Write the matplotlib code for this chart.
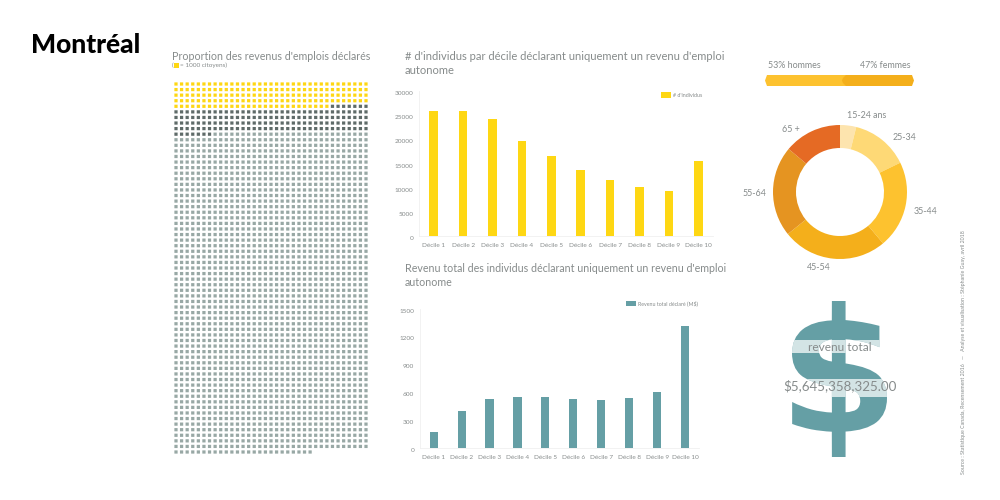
import matplotlib
matplotlib.use('Agg')
import numpy as np
import matplotlib.pyplot as plt
from matplotlib.patches import PathPatch, Polygon, Rectangle
from matplotlib.textpath import TextPath
from matplotlib.font_manager import FontProperties
from matplotlib.transforms import Affine2D, ScaledTranslation

plt.rcParams['font.family'] = ['Lato', 'Open Sans', 'DejaVu Sans']

# waffle: one square = 1000 people
waffle_counts = [168, 154, 2013]
waffle_colors = ['#fed713', '#5f6b69', '#98a8a5']
waffle_cols = 35

deciles = ['Décile 1', 'Décile 2', 'Décile 3', 'Décile 4', 'Décile 5',
           'Décile 6', 'Décile 7', 'Décile 8', 'Décile 9', 'Décile 10']
individus = [25800, 25800, 24200, 19650, 16500, 13600, 11700, 10100, 9350, 15500]
revenu = [165, 400, 525, 550, 550, 525, 518, 536, 597, 1313]

age_labels = ['15-24 ans', '25-34', '35-44', '45-54', '55-64', '65 +']
age_shares = [3.9, 13.9, 21.1, 25.3, 21.9, 13.9]
age_colors = ['#fde4ae', '#fed976', '#fdc22f', '#f4af1b', '#e59421', '#e56a24']

hommes = 53
femmes = 47

GREY = '#868b8b'
TEAL = '#659fa5'
YELLOW = '#fed713'

fig = plt.figure(figsize=(10, 5), dpi=100, facecolor='white')


def px_axes(x0, y0, x1, y1):
    return fig.add_axes([x0 / 1000, 1 - y1 / 500, (x1 - x0) / 1000, (y1 - y0) / 500])


def bar_panel(box, values, color, ymax, ticks, label, legend_at):
    ax = px_axes(*box)
    ax.bar(range(len(values)), values, width=0.29, color=color, label=label)
    ax.set_xlim(-0.5, len(values) - 0.5)
    ax.set_ylim(0, ymax)
    ax.set_yticks(ticks)
    ax.set_xticks(range(len(values)))
    ax.set_xticklabels(deciles)
    ax.tick_params(length=0, labelsize=4.6, labelcolor=GREY, pad=5)
    ax.tick_params(axis='y', pad=4)
    # the y labels sit a little below their value in the reference
    for lab in ax.get_yticklabels():
        lab.set_transform(lab.get_transform() + ScaledTranslation(0, -2 / 100, fig.dpi_scale_trans))
    for s in ['top', 'right']:
        ax.spines[s].set_visible(False)
    for s in ['left', 'bottom']:
        ax.spines[s].set_color('#f0f0f0')
        ax.spines[s].set_linewidth(0.6)
    ax.legend(loc='center', bbox_to_anchor=legend_at, frameon=False, fontsize=3.8,
              labelcolor=GREY, handlelength=1.9, handleheight=1.2, handletextpad=0.3,
              borderpad=0)
    return ax


# waffle
ax_w = px_axes(170, 80, 372, 456)
kinds = np.repeat(np.arange(len(waffle_counts)), waffle_counts)
idx = np.arange(len(kinds))
squares = ax_w.scatter(idx % waffle_cols, idx // waffle_cols, marker='s', s=5.4, linewidths=0,
                       c=[waffle_colors[k] for k in kinds])
squares.set_snap(False)
ax_w.set_xlim(-(176 - 170) / 5.59, 34 + (372 - 366) / 5.59)
ax_w.set_ylim(66 + (456 - 452) / 5.576, -(84 - 80) / 5.576)
ax_w.axis('off')

# bar charts
bar_panel((419, 90.7, 713, 236.3), individus, YELLOW, 30000,
          [0, 5000, 10000, 15000, 20000, 25000, 30000], "# d'individus", (0.893, 0.97))
bar_panel((419.7, 308.7, 699, 447.7), revenu, TEAL, 1500,
          [0, 300, 600, 900, 1200, 1500], 'Revenu total déclaré (M$)', (0.8675, 1.04))

# donut
ax_d = px_axes(840 - 67, 192 - 67, 840 + 67, 192 + 67)
ax_d.pie(age_shares, colors=age_colors, startangle=90, counterclock=False, radius=1,
         wedgeprops={'width': 23 / 67, 'linewidth': 0})
ax_d.set_xlim(-1, 1)
ax_d.set_ylim(-1, 1)

# everything placed by hand on the page, in pixels
page = fig.add_axes([0, 0, 1, 1], zorder=5)
page.set_xlim(0, 1000)
page.set_ylim(500, 0)
page.axis('off')
page.patch.set_alpha(0)


def txt(x, y, s, size, ha='left', color=GREY, **kw):
    page.text(x, y, s, fontsize=size, ha=ha, va='center', color=color, **kw)


txt(31, 45, 'Montréal', 19, color='black', fontweight='black')
txt(172, 57, "Proportion des revenus d'emplois déclarés", 7.7)
txt(172, 65.5, '(', 4.6)
page.add_patch(Rectangle((174, 63), 5, 4.5, color=YELLOW, lw=0))
txt(180, 65.5, '= 1000 citoyens)', 4.6)
txt(405, 57, "# d'individus par décile déclarant uniquement un revenu d'emploi", 8.0)
txt(405, 70, 'autonome', 8.0)
txt(405, 269, "Revenu total des individus déclarant uniquement un revenu d'emploi", 7.7)
txt(405, 282, 'autonome', 7.7)

# men / women bar
bar_l, bar_r = 765, 914
split = bar_l + (bar_r - bar_l) * hommes / (hommes + femmes)
page.add_patch(Polygon([(bar_l + 2, 75), (split + 5, 75), (split + 5, 86), (bar_l + 2, 86), (bar_l, 80.5)],
                       color='#fdc22f', lw=0))
page.add_patch(Polygon([(split + 2, 75), (bar_r - 2, 75), (bar_r, 80.5), (bar_r - 2, 86), (split + 2, 86),
                        (split - 1, 83), (split - 2, 80.5), (split - 1, 78)],
                       color='#f4af1b', lw=0))
txt(768, 65, f'{hommes}% hommes', 6.4)
txt(910, 65, f'{femmes}% femmes', 6.4, ha='right')

# donut labels
label_pos = [(847, 116, 'left'), (893, 138, 'left'), (914, 211, 'left'),
             (819, 268, 'center'), (743, 193, 'left'), (782, 129, 'left')]
for (x, y, ha), lab in zip(label_pos, age_labels):
    txt(x, y, lab, 6.4, ha=ha)

# dollar sign, with two pale bands clipped to its shape
fp = FontProperties(family='DejaVu Sans', weight='bold')
tp = TextPath((0, 0), '$', size=100, prop=fp)
bb = tp.get_extents()
x0, x1, y0, y1 = 792, 887, 301, 457
tr = (Affine2D().translate(-bb.x0, -bb.y0)
      .scale((x1 - x0) / bb.width, -(y1 - y0) / bb.height)
      .translate(x0, y1))
dollar = PathPatch(tp.transformed(tr), facecolor=TEAL, edgecolor='none', zorder=2)
page.add_patch(dollar)
for y_a, y_b in [(340, 353), (379, 397)]:
    band = Rectangle((780, y_a), 120, y_b - y_a, facecolor='white', alpha=0.72, lw=0, zorder=3)
    page.add_patch(band)
    band.set_clip_path(dollar)
txt(840, 347.5, 'revenu total', 8.6, ha='center', zorder=4)
txt(840, 386, '$5,645,358,325.00', 9.6, ha='center', zorder=4)

page.text(963, 352, 'Source : Statistique Canada, Recensement 2016   —   Analyse et visualisation : '
          'Stéphanie Guay, avril 2018', fontsize=3.75, color=GREY, rotation=90,
          ha='center', va='center')

fig.savefig('out.png', dpi=100)
